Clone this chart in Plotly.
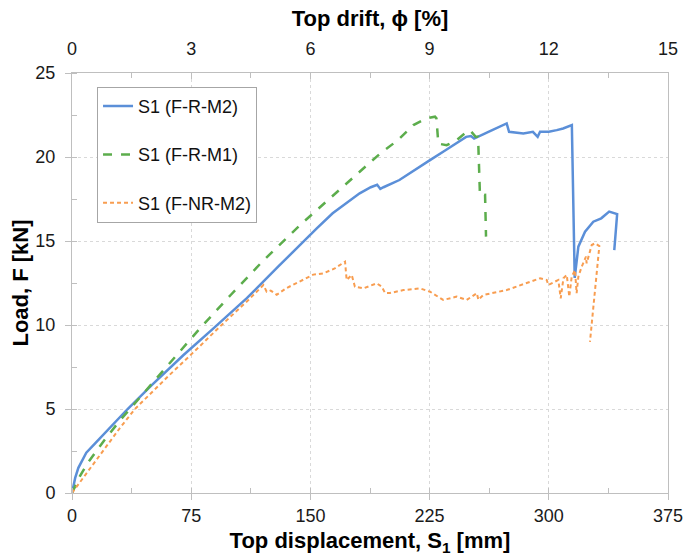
import plotly.graph_objects as go

# ---- data ----
blue_x = [0, 2, 4, 6, 9, 15, 25, 35, 50, 70, 89, 110, 130, 143.5, 154, 164, 172, 181, 188, 192,
          194, 196, 206, 215, 225, 235, 248, 251, 253, 262, 273.5, 275, 280, 284, 290, 293, 294.5,
          300, 305, 309, 314.5, 316.3, 318.6, 322.8, 328, 333, 338, 343, 341.2]
blue_y = [0, 0.9, 1.5, 1.9, 2.4, 3.0, 4.0, 5.0, 6.4, 8.2, 9.8, 11.6, 13.5, 14.8, 15.75, 16.65, 17.2,
          17.84, 18.2, 18.35, 18.1, 18.2, 18.63, 19.2, 19.8, 20.4, 21.2, 21.25, 21.1, 21.5, 22.0,
          21.5, 21.45, 21.4, 21.5, 21.2, 21.5, 21.5, 21.6, 21.7, 21.9, 12.8, 14.66, 15.55, 16.15,
          16.35, 16.75, 16.6, 14.46]

green_x = [0, 5, 10, 20, 30, 40, 55, 80.5, 100, 120, 143.5, 175, 193.8, 205, 214.8, 223, 228.4,
           229.3, 230.5, 235.7, 242, 248.3, 250.4, 254, 255.5, 256.7, 259.9, 260.5]
green_y = [0, 1.0, 1.8, 3.1, 4.3, 5.4, 7.0, 9.8, 11.8, 13.8, 15.95, 18.6, 20.2, 21.0, 21.9, 22.3,
           22.4, 22.3, 20.8, 20.7, 21.0, 21.5, 21.6, 21.2, 21.2, 17.7, 17.74, 15.26]

orange_x = [0, 10, 20, 30, 39.6, 60, 80, 93, 110, 120.4, 122.5, 125, 128.8, 135, 143.5, 151.8, 158,
            165, 171.8, 172.8, 176, 178, 183.3, 191.7, 194.9, 197, 200, 208.5, 219, 225.3, 233.6,
            242, 248.3, 254.7, 255.7, 258.8, 273.5, 286, 294.5, 298.7, 299.7, 306, 307.5, 309.2,
            311.3, 312.9, 314.4, 316.5, 317.5, 318.6, 320.7, 323.4, 323.8, 327, 329, 331.8, 325.9]
orange_y = [0, 1.3, 2.6, 3.85, 5.0, 6.9, 8.7, 9.9, 11.4, 12.38, 11.98, 12.05, 11.8, 12.2, 12.6, 13.0,
            13.07, 13.35, 13.77, 12.68, 12.98, 12.28, 12.18, 12.48, 12.28, 11.9, 11.9, 12.08, 12.18,
            11.98, 11.49, 11.69, 11.49, 11.89, 11.5, 11.79, 12.08, 12.48, 12.78, 12.68, 12.38, 12.68,
            11.59, 12.78, 12.98, 11.69, 12.88, 13.27, 11.89, 12.88, 13.47, 14.07, 13.67, 14.76,
            14.86, 14.7, 9.0]

names = ["S1 (F-R-M2)", "S1 (F-R-M1)", "S1 (F-NR-M2)"]
x_ticks = [0, 75, 150, 225, 300, 375]
drift_ticks = [0, 3, 6, 9, 12, 15]
y_ticks = [0, 5, 10, 15, 20, 25]
DRIFT_PER_MM = 15 / 375  # top drift scale: 375 mm -> 15 %

FONT = "Arial, Liberation Sans, sans-serif"
AXC = "#bfbfbf"
GRID = "#d9d9d9"
TICKF = dict(size=18, color="#1a1a1a")
TITLEF = dict(size=22, color="#000")

fig = go.Figure()
fig.add_trace(go.Scatter(x=blue_x, y=blue_y, mode="lines", name=names[0], legendgroup="a",
                         line=dict(color="#5B8FD8", width=2.5)))
fig.add_trace(go.Scatter(x=green_x, y=green_y, mode="lines", name=names[1], legendgroup="b",
                         line=dict(color="#5CAD4C", width=2.5, dash="dash")))
fig.add_trace(go.Scatter(x=orange_x, y=orange_y, mode="lines", name=names[2], legendgroup="c",
                         line=dict(color="#F89D50", width=2, dash="4px,3px")))
# invisible companion trace so the secondary (drift) axis is drawn
fig.add_trace(go.Scatter(x=[v * DRIFT_PER_MM for v in blue_x], y=blue_y, xaxis="x2", mode="lines",
                         line=dict(width=0, color="rgba(0,0,0,0)"), showlegend=False, hoverinfo="skip"))

fig.update_layout(
    width=685, height=556,
    margin=dict(l=72, r=17, t=73, b=63, autoexpand=False),
    paper_bgcolor="white", plot_bgcolor="white",
    font=dict(family=FONT, size=16, color="#222"),
    legend=dict(x=0.042, y=0.967, xanchor="left", yanchor="top",
                bgcolor="white", bordercolor="#a6a6a6", borderwidth=1,
                font=dict(size=18, color="#111"), tracegroupgap=22, traceorder="grouped"),
    xaxis=dict(range=[0, 375], tickvals=x_ticks, showline=True, linecolor=AXC, linewidth=1,
               showgrid=True, gridcolor=GRID, griddash="dot", zeroline=False, automargin=False,
               ticks="outside", ticklen=6, tickcolor=AXC, tickfont=TICKF,
               minor=dict(dtick=37.5, ticks="inside", ticklen=5, tickcolor=AXC, showgrid=False),
               title=dict(text="<b>Top displacement, S<sub>1</sub> [mm]</b>", font=TITLEF, standoff=11)),
    xaxis2=dict(range=[0, 15], tickvals=drift_ticks, overlaying="x", side="top", showline=True,
                linecolor=AXC, linewidth=1, showgrid=False, zeroline=False, automargin=False,
                ticks="inside", ticklen=6, tickcolor=AXC, tickfont=TICKF, ticklabelstandoff=10,
                minor=dict(dtick=1.5, ticks="inside", ticklen=5, tickcolor=AXC, showgrid=False),
                title=dict(text="<b>Top drift, ϕ [%]</b>", font=TITLEF, standoff=6)),
    yaxis=dict(range=[0, 25], tickvals=y_ticks, showline=True, linecolor=AXC, linewidth=1, mirror=True,
               showgrid=True, gridcolor=GRID, griddash="dot", zeroline=False, automargin=False,
               ticks="outside", ticklen=6, tickcolor=AXC, tickfont=TICKF, ticklabelstandoff=6,
               minor=dict(dtick=2.5, ticks="inside", ticklen=5, tickcolor=AXC, showgrid=False),
               title=dict(text="<b>Load, F [kN]</b>", font=TITLEF, standoff=0)),
)

fig.write_html("out.html")
